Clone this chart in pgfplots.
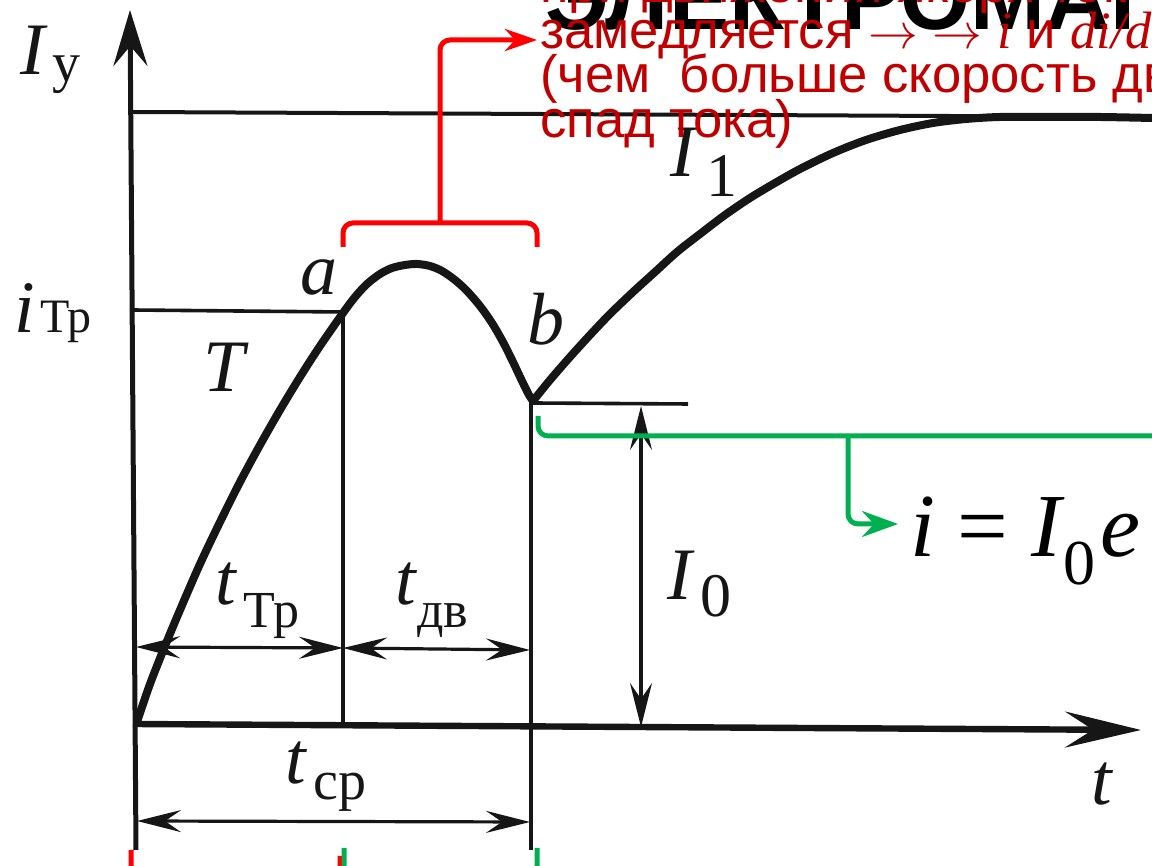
\documentclass[border=0pt]{standalone}
\usepackage{pgfplots}
\pgfplotsset{compat=1.18}
\usetikzlibrary{arrows.meta}
\usepackage{fontspec}
\setmainfont{Liberation Serif}
\newfontfamily\arial{Liberation Sans}

\definecolor{ink}{RGB}{22,22,22}
\definecolor{brRed}{RGB}{255,0,0}
\definecolor{txtRed}{RGB}{192,0,0}
\definecolor{brGreen}{RGB}{0,176,80}

\newcommand\Lg{\fontsize{37}{37}\selectfont}
\newcommand\Sm[1]{\fontsize{#1}{#1}\selectfont}

\begin{document}
\begin{tikzpicture}[
  lbl/.style={inner sep=0pt, anchor=base west, text=ink},
  dim/.style={ink, line width=1.6pt, {Stealth[length=22pt,width=11pt,inset=8pt]}-{Stealth[length=22pt,width=11pt,inset=8pt]}},
]
\begin{axis}[scale only axis, width=576pt, height=433pt,
  xmin=0, xmax=1152, ymin=-866, ymax=0,
  axis lines=none, clip=false]

\coordinate (ll) at (axis cs:0,-866);
\coordinate (ur) at (axis cs:1152,0);

% slide title, mostly outside the frame
\node[lbl, text=black] at (545,-30) {\arial\bfseries\Sm{45}ЭЛЕКТРОМАГНИТЫ};

% coil current: pickup, armature motion, then rise to the steady value
\addplot[ink, line width=4pt, smooth, tension=0.5, line join=round, line cap=round] coordinates {
  (137,-722) (150,-684) (165,-646) (180,-610) (200,-564) (220,-522)
  (240,-482) (260,-445) (280,-410) (300,-377) (320,-346) (343,-313)
  (355,-297) (367,-284) (380,-274) (392,-268) (405,-265) (417,-264)
  (430,-266) (442,-271) (455,-280) (467,-291) (480,-306) (492,-323)
  (503,-342) (513,-362) (522,-381) (529,-395) (533,-401)
};
\addplot[ink, line width=4pt, smooth, tension=0.5, line join=round, line cap=round] coordinates {
  (533,-401) (550,-380) (570,-357) (590,-335) (610,-314) (633,-292)
  (655,-272) (677,-252) (700,-234) (725,-215) (750,-198) (775,-183)
  (800,-169) (833,-153) (866,-140) (900,-130) (933,-123) (966,-119)
  (1000,-117) (1050,-117) (1100,-117) (1152,-118)
};

% axes
\draw[ink, line width=2.5pt, -{Stealth[length=28pt,width=17pt,inset=10pt]}] (136,-850) -- (130,-10);
\draw[ink, line width=3.2pt, -{Stealth[length=38pt,width=18pt,inset=14pt]}] (133,-724) -- (1141,-730);

% reference lines
\draw[ink, line width=2pt] (131,-112) -- (1152,-117);
\draw[ink, line width=1.8pt] (132,-310) -- (343,-312);
\draw[ink, line width=1.6pt] (343,-312) -- (343,-726);
\draw[ink, line width=1.9pt] (531,-400) -- (531,-850);
\draw[ink, line width=1.8pt] (533,-403) -- (688,-404);

% dimension arrows
\draw[dim] (641,-406) -- (641,-727);
\draw[dim] (136,-647) -- (343,-648);
\draw[dim] (343,-648) -- (530,-650);
\draw[dim] (137,-821) -- (530,-822);

% labels
\node[lbl] at (20,-75) {\Lg\itshape I};
\node[lbl] at (52,-82) {\Sm{28}у};
\node[lbl] at (14,-333) {\Lg\itshape i};
\node[lbl] at (40,-333) {\Sm{24}Тр};
\node[lbl] at (300,-295) {\Lg\itshape a};
\node[lbl] at (203,-392) {\Lg\itshape T};
\node[lbl] at (527,-345) {\Lg\itshape b};
\node[lbl] at (215,-605) {\Lg\itshape t};
\node[lbl] at (243,-628) {\Sm{26}Тр};
\node[lbl] at (395,-605) {\Lg\itshape t};
\node[lbl] at (417,-628) {\Sm{26}дв};
\node[lbl] at (285,-784) {\Lg\itshape t};
\node[lbl] at (313,-800) {\Sm{28}ср};
\node[lbl] at (670,-177) {\Lg\itshape I};
\node[lbl] at (706,-197) {\Sm{31}1};
\node[lbl] at (667,-600) {\Lg\itshape I};
\node[lbl] at (700,-617) {\Sm{31}0};
\node[lbl] at (1091,-805) {\Lg\itshape t};

% formula
\node[lbl, text=black] at (910,-557) {\Sm{45}\itshape i \upshape= \itshape I};
\node[lbl, text=black] at (1063,-585) {\Sm{32}0};
\node[lbl, text=black] at (1100,-557) {\Sm{45}\itshape e};

% brackets and pointers
\draw[brRed, line width=2.5pt, rounded corners=5pt] (343,-247) -- (343,-223) -- (537,-223) -- (537,-247);
\draw[brRed, line width=2.5pt, rounded corners=5pt, -{Stealth[length=16pt,width=11pt,inset=5pt]}] (440,-223) -- (440,-40) -- (537,-40);
\draw[brGreen, line width=2.5pt, rounded corners=5pt] (538,-416) -- (538,-436) -- (1160,-436);
\draw[brGreen, line width=2.5pt, rounded corners=5pt, -{Stealth[length=18pt,width=13pt,inset=6pt]}] (848,-436) -- (848,-524) -- (898,-524);
\draw[brRed, line width=2.5pt, rounded corners=12pt] (131,-850) -- (131,-890) -- (340,-890) -- (340,-856);
\draw[brGreen, line width=2.5pt, rounded corners=12pt] (344,-848) -- (344,-890) -- (537,-890) -- (537,-848);

% annotation text
\node[lbl, text=txtRed] at (540,-3) {\arial\Sm{26.3}при движении якоря ток};
\node[lbl, text=txtRed] at (540,-49) {\arial\Sm{26.3}замедляется $\rightarrow$ $\rightarrow$ {\rmfamily\itshape i} и {\rmfamily\itshape di/dt}};
\node[lbl, text=txtRed] at (540,-93) {\arial\Sm{26.3}(чем\ \ больше скорость движения якоря,};
\node[lbl, text=txtRed] at (540,-138) {\arial\Sm{26.3}спад тока)};

\end{axis}
\pgfresetboundingbox
\path (ll) rectangle (ur);
\end{tikzpicture}
\end{document}
